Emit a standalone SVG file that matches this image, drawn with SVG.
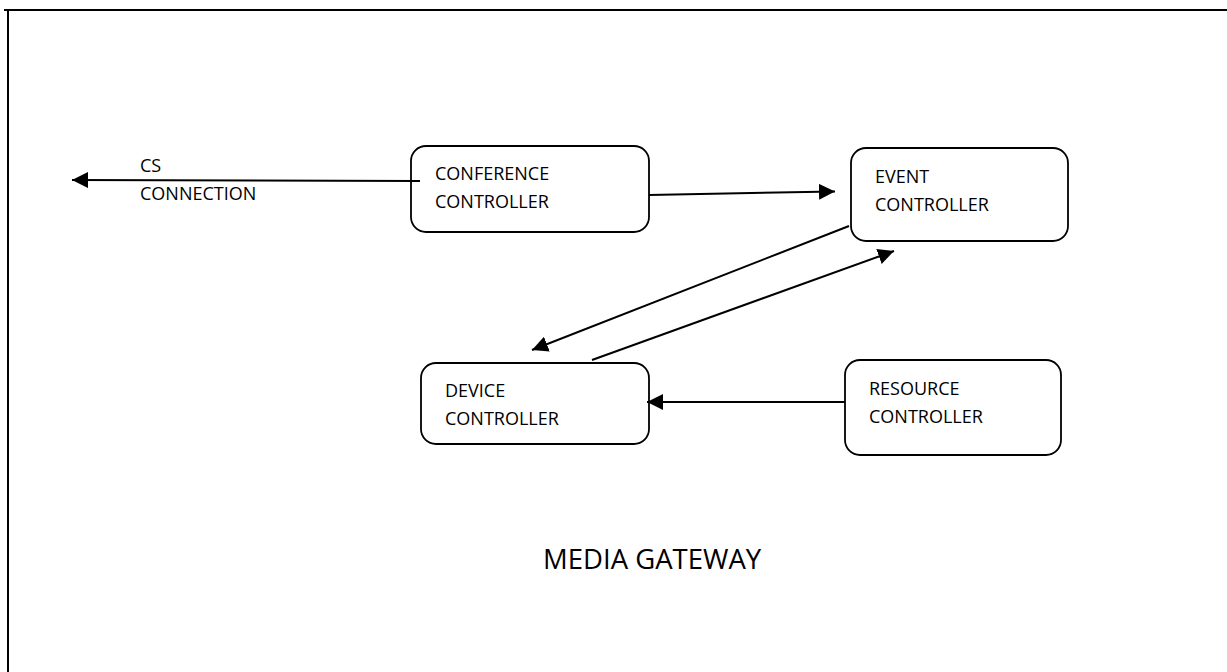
<svg xmlns="http://www.w3.org/2000/svg" width="1227" height="672" viewBox="0 0 1227 672">
  <style>
    .frame { stroke: #000; stroke-width: 2; fill: none; }
    .box { fill: #fff; stroke: #000; stroke-width: 1.8; }
    .link { stroke: #000; stroke-width: 2; fill: none; marker-end: url(#arrow); }
    .lbl { font-family: "Open Sans", "Noto Sans", "Liberation Sans", sans-serif; font-size: 18px; fill: #000; }
    .title { font-family: "Open Sans", "Noto Sans", "Liberation Sans", sans-serif; font-size: 27.5px; fill: #000; }
  </style>
  <defs>
    <marker id="arrow" viewBox="0 0 16 16" refX="16" refY="8" markerWidth="16" markerHeight="16" markerUnits="userSpaceOnUse" orient="auto">
      <path d="M0,0 L16,8 L0,16 z" fill="#000"/>
    </marker>
  </defs>

  <rect width="1227" height="672" fill="#fff"/>

  <!-- outer frame: top and left edges only -->
  <g id="frame">
    <line class="frame" x1="4" y1="10" x2="1227" y2="10"/>
    <line class="frame" x1="8" y1="9" x2="8" y2="672"/>
  </g>

  <g id="cs-connection-label">
    <text class="lbl" x="140" y="172">CS</text>
    <text class="lbl" x="140" y="200">CONNECTION</text>
  </g>

  <g id="conference-controller">
    <rect class="box" x="411" y="146" width="238" height="86" rx="15"/>
    <text class="lbl" x="435" y="180">CONFERENCE</text>
    <text class="lbl" x="435" y="208">CONTROLLER</text>
  </g>

  <g id="event-controller">
    <rect class="box" x="851" y="148" width="217" height="93" rx="15"/>
    <text class="lbl" x="875" y="183">EVENT</text>
    <text class="lbl" x="875" y="211">CONTROLLER</text>
  </g>

  <g id="device-controller">
    <rect class="box" x="421" y="363" width="228" height="81" rx="15"/>
    <text class="lbl" x="445" y="397">DEVICE</text>
    <text class="lbl" x="445" y="425">CONTROLLER</text>
  </g>

  <g id="resource-controller">
    <rect class="box" x="845" y="360" width="216" height="95" rx="15"/>
    <text class="lbl" x="869" y="395">RESOURCE</text>
    <text class="lbl" x="869" y="423">CONTROLLER</text>
  </g>

  <!-- drawn over the boxes so the CS line's start stub shows inside the conference box -->
  <g id="connectors">
    <path class="link" d="M420,181 L72,180"/>
    <path class="link" d="M649,195 L835,191.5"/>
    <path class="link" d="M849,226 L532,350"/>
    <path class="link" d="M592,360 L894,251"/>
    <path class="link" d="M845,402 L647,402"/>
  </g>

  <g id="media-gateway-title">
    <text class="title" x="543" y="569">MEDIA GATEWAY</text>
  </g>
</svg>
